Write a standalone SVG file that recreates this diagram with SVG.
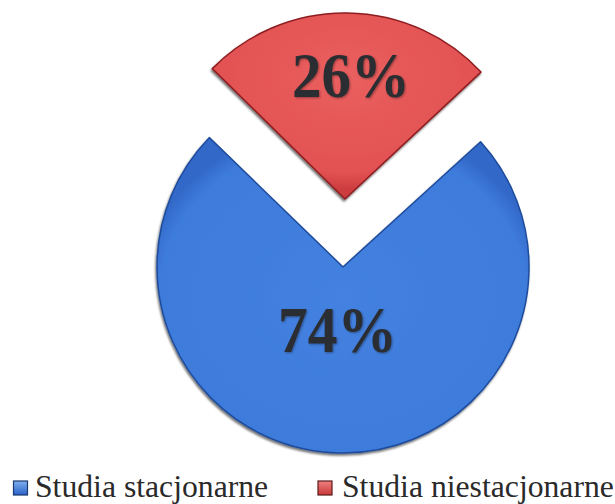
<svg xmlns="http://www.w3.org/2000/svg" width="615" height="504" viewBox="0 0 615 504">
  <defs>
    <radialGradient id="gBlue" cx="0.5" cy="0.5" r="0.55">
      <stop offset="0" stop-color="#4481e0"/>
      <stop offset="0.9" stop-color="#3e7bdb"/>
      <stop offset="1" stop-color="#3268c8"/>
    </radialGradient>
    <radialGradient id="gRed" cx="0.5" cy="0.35" r="0.6">
      <stop offset="0" stop-color="#ea5f5f"/>
      <stop offset="0.85" stop-color="#e25152"/>
      <stop offset="1" stop-color="#cc3d3f"/>
    </radialGradient>
    <linearGradient id="lBlue" x1="0" y1="0" x2="0" y2="1">
      <stop offset="0" stop-color="#7fb0f0"/>
      <stop offset="1" stop-color="#2a62c8"/>
    </linearGradient>
    <linearGradient id="lRed" x1="0" y1="0" x2="0" y2="1">
      <stop offset="0" stop-color="#f08080"/>
      <stop offset="1" stop-color="#c83838"/>
    </linearGradient>
    <filter id="shadow" x="-10%" y="-10%" width="120%" height="120%">
      <feDropShadow dx="-1" dy="2" stdDeviation="1.2" flood-color="#000" flood-opacity="0.55"/>
    </filter>
    <filter id="tshadow" x="-10%" y="-10%" width="120%" height="130%">
      <feDropShadow dx="1" dy="1" stdDeviation="0.8" flood-color="#000" flood-opacity="0.35"/>
    </filter>
  </defs>
  <style>
    .lbl { font-family: "Liberation Serif", "Times New Roman", serif; font-weight: bold; fill: #2b2d30; text-anchor: middle; }
    .leg { font-family: "Liberation Serif", "Times New Roman", serif; font-size: 31.7px; fill: #2a2a2a; }
  </style>
  <rect width="615" height="504" fill="#ffffff"/>
  <g id="slice-stacjonarne" filter="url(#shadow)">
    <path d="M343,267 L480.6,141.8 A186,186 0 1,1 209.4,137.6 Z" fill="url(#gBlue)" stroke="#1f4c9c" stroke-width="1.5" stroke-linejoin="round"/>
    <text class="lbl" x="337.5" y="352" font-size="65" textLength="119" lengthAdjust="spacingAndGlyphs" filter="url(#tshadow)">74%</text>
  </g>
  <g id="slice-niestacjonarne" filter="url(#shadow)">
    <path d="M345,199 L212.3,68.6 A186,186 0 0,1 481,72.1 Z" fill="url(#gRed)" stroke="#8e1e20" stroke-width="1.5" stroke-linejoin="round"/>
    <text class="lbl" x="351" y="97" font-size="64" textLength="118" lengthAdjust="spacingAndGlyphs" filter="url(#tshadow)">26%</text>
  </g>
  <g id="legend">
    <g id="legend-stacjonarne">
      <rect x="13.5" y="481" width="14" height="14" fill="url(#lBlue)" stroke="#1a3a70" stroke-width="1.2"/>
      <text class="leg" x="35" y="497">Studia stacjonarne</text>
    </g>
    <g id="legend-niestacjonarne">
      <rect x="318" y="481" width="14" height="14" fill="url(#lRed)" stroke="#5a1a1a" stroke-width="1.2"/>
      <text class="leg" x="342" y="497">Studia niestacjonarne</text>
    </g>
  </g>
</svg>
